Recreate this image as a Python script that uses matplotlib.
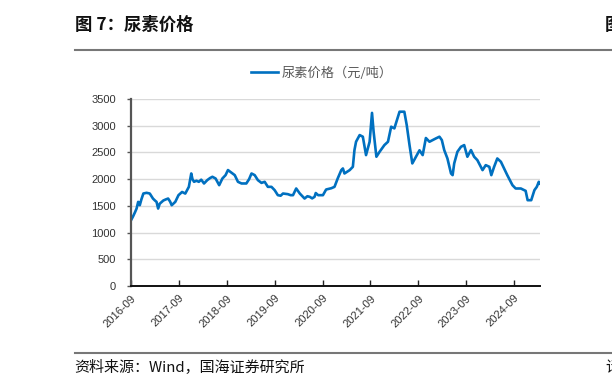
import matplotlib
matplotlib.use("Agg")
import matplotlib.pyplot as plt
import numpy as np
import pandas as pd

plt.rcParams['font.family'] = ['Noto Sans CJK SC', 'DejaVu Sans']

# months elapsed since 2016-09-01 and urea price (yuan/ton)
months = [0.0, 0.5, 1.0, 1.4, 1.8, 2.2, 2.6, 3.1, 3.9, 4.7, 5.5, 6.0, 6.4, 6.8, 7.2, 8.1, 8.7, 9.3,
          9.8, 10.2, 11.1, 11.9, 12.8, 13.6, 14.5, 15.1, 15.4, 15.8, 16.4, 17.0, 17.6, 18.3, 19.1,
          19.8, 20.4, 21.2, 22.1, 22.9, 23.7, 24.3, 25.2, 26.0, 26.8, 27.7, 28.9, 29.6, 30.2, 31.0,
          31.8, 32.7, 33.5, 34.3, 35.2, 36.0, 36.8, 37.5, 38.1, 39.3, 40.0, 40.6, 41.4, 42.3, 43.5,
          44.2, 44.8, 45.4, 46.0, 46.3, 46.9, 48.1, 48.9, 50.2, 51.0, 51.8, 52.7, 53.1, 53.5, 54.8,
          55.6, 56.0, 56.4, 57.3, 58.1, 58.9, 59.8, 60.4, 60.8, 61.5, 62.3, 63.5, 64.4, 65.2, 66.0,
          67.3, 68.5, 69.1, 69.8, 70.5, 71.4, 72.3, 73.1, 73.9, 74.8, 75.6, 76.4, 77.3, 77.9, 78.5,
          79.3, 80.2, 80.6, 81.0, 81.8, 82.7, 83.5, 84.3, 85.2, 86.0, 86.8, 88.1, 88.9, 89.8, 90.3,
          91.0, 91.8, 92.7, 93.5, 94.3, 95.6, 96.4, 97.7, 98.9, 99.4, 100.3, 101.1, 101.7, 102.2, 102.5]
prices = [1230, 1300, 1380, 1450, 1575, 1512, 1620, 1731, 1744, 1731, 1637, 1600, 1575, 1450, 1540, 1600, 1620, 1637,
          1580, 1512, 1575, 1700, 1760, 1730, 1856, 2106, 2000, 1950, 1970, 1950, 1990, 1919, 1981,
          2020, 2044, 2012, 1887, 2012, 2075, 2170, 2120, 2075, 1950, 1919, 1919, 2000, 2106, 2075,
          1981, 1930, 1950, 1856, 1856, 1794, 1700, 1690, 1731, 1719, 1700, 1700, 1825, 1731, 1637,
          1680, 1669, 1640, 1669, 1740, 1700, 1700, 1806, 1830, 1856, 2012, 2169, 2200, 2106, 2169,
          2231, 2544, 2700, 2825, 2794, 2450, 2700, 3240, 2887, 2419, 2512, 2637, 2700, 2981, 2950,
          3262, 3262, 3012, 2637, 2294, 2419, 2540, 2450, 2770, 2700, 2731, 2762, 2794, 2731, 2544,
          2387, 2106, 2075, 2294, 2512, 2606, 2637, 2419, 2544, 2419, 2356, 2169, 2262, 2231, 2075,
          2231, 2387, 2325, 2200, 2075, 1887, 1825, 1825, 1781, 1606, 1606, 1794, 1856, 1950, 1919]
tick_labels = ['2016-09', '2017-09', '2018-09', '2019-09', '2020-09', '2021-09', '2022-09', '2023-09', '2024-09']
y_ticks = [0, 500, 1000, 1500, 2000, 2500, 3000, 3500]

series_name = '尿素价格（元/吨）'
title = '图 7：尿素价格'
source = '资料来源：Wind，国海证券研究所'

fig = plt.figure(figsize=(6.12, 3.90), dpi=100)
ax = fig.add_axes([131/612, 1-286/390, (540-131)/612, (286-99)/390])

ax.plot(months, prices, color='#0070C0', lw=1.9, label=series_name)
ax.set_xlim(0, 102.5)
ax.set_ylim(0, 3500)
ax.set_yticks(y_ticks)
ax.set_yticklabels([str(v) for v in y_ticks], fontsize=8, color='#333333', family=['Liberation Sans', 'DejaVu Sans'])
xt = [12*i for i in range(len(tick_labels))]
ax.set_xticks(xt)
ax.set_xticklabels(tick_labels, rotation=45, ha='right', rotation_mode='anchor', fontsize=8,
                   color='#333333', family=['Liberation Sans', 'DejaVu Sans'])
ax.tick_params(axis='x', direction='in', length=4, width=1, color='#222222', pad=5)
ax.tick_params(axis='y', direction='out', length=3, width=1, color='#555555', pad=8)
ax.grid(axis='y', color='#d9d9d9', lw=1)
ax.set_axisbelow(True)
for s in ['top', 'right']:
    ax.spines[s].set_visible(False)
ax.spines['left'].set_color('#555555')
ax.spines['left'].set_linewidth(1.6)
ax.spines['bottom'].set_color('#111111')
ax.spines['bottom'].set_linewidth(1.4)

leg = ax.legend(loc='center', bbox_to_anchor=((322-131)/409, 1 + 26/187),
                frameon=False, fontsize=9.5, handlelength=2.0, handletextpad=0.3, borderpad=0)
for t in leg.get_texts():
    t.set_color('#595959')

# header / footer
fig.text(75/612, 1-25/390, title, fontsize=12.5, fontweight='bold', va='center', ha='left', color='#111111')
fig.text(605/612, 1-25/390, '图', fontsize=12.5, fontweight='bold', va='center', ha='left', color='#111111')
fig.add_artist(plt.Line2D([75/612, 1], [1-50/390, 1-50/390], color='#777777', lw=1.5))
fig.add_artist(plt.Line2D([75/612, 1], [1-353/390, 1-353/390], color='#777777', lw=1.5))
fig.text(74/612, 1-368/390, source, fontsize=10.8, va='center', ha='left', color='#111111')
fig.text(605/612, 1-368/390, '请', fontsize=10.8, va='center', ha='left', color='#111111')

fig.savefig('out.png', dpi=100)
